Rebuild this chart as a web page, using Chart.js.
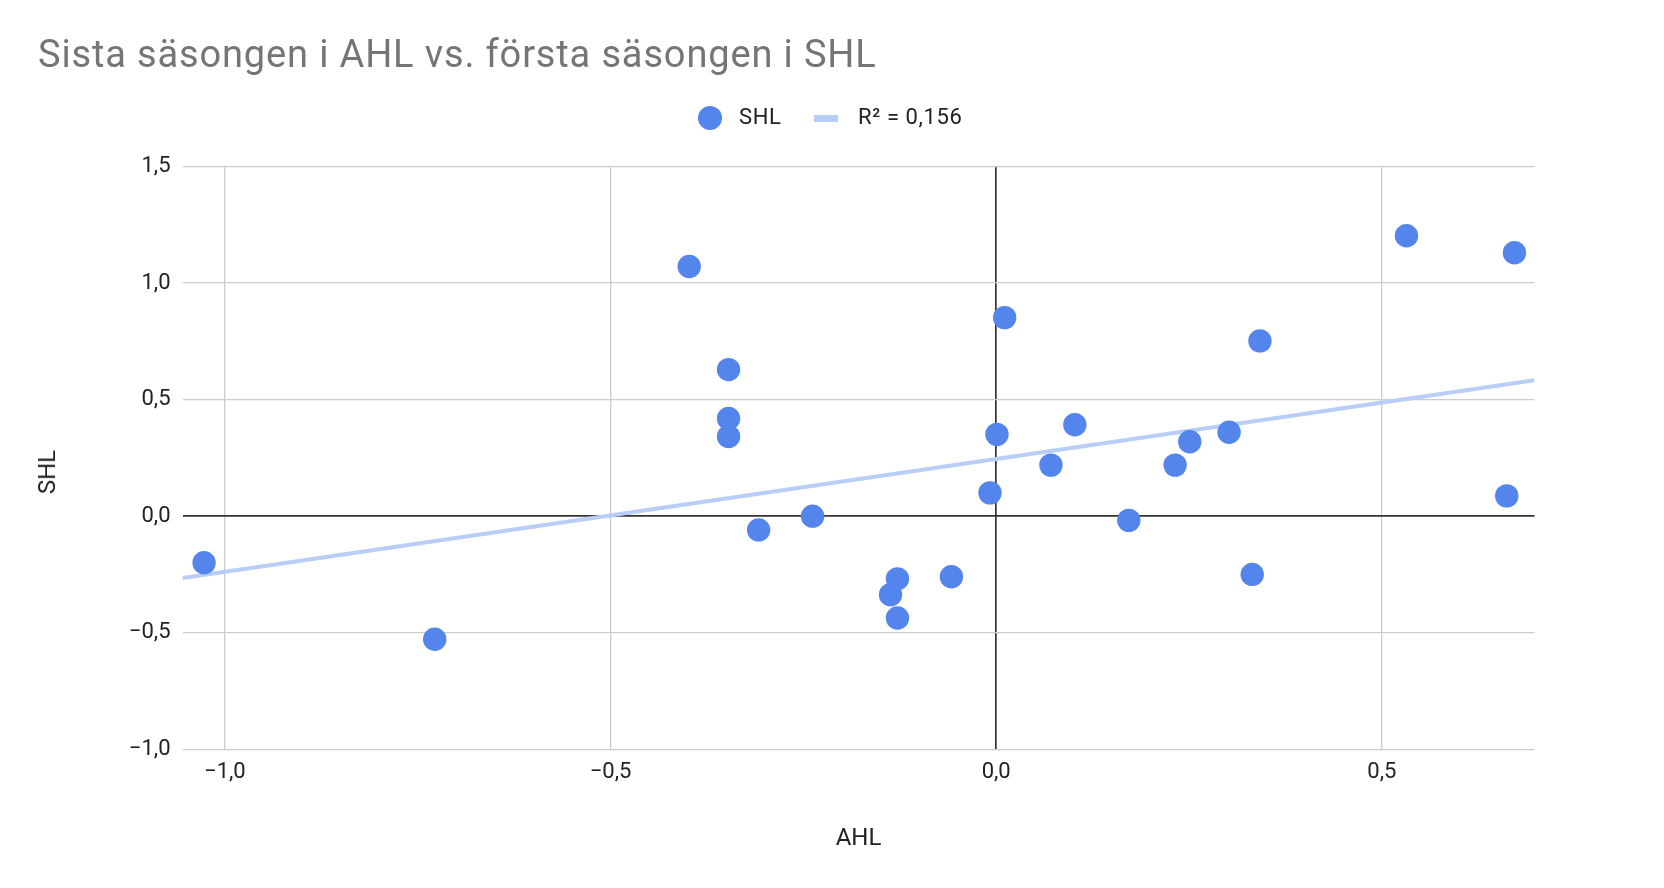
<!DOCTYPE html>
<html>
<head>
<meta charset="utf-8">
<script src="https://cdn.jsdelivr.net/npm/chart.js@4.4.1/dist/chart.umd.min.js"></script>
<style>
  html, body { margin: 0; padding: 0; background: #fff; }
  #wrap { position: relative; width: 1664px; height: 888px; font-family: Roboto, sans-serif; }
  #wrap canvas { position: absolute; left: 0; top: 0; }
  .title { position: absolute; left: 38px; top: 35px; font-size: 38px; line-height: 38px; letter-spacing: 0.85px; color: #757575; white-space: nowrap; }
  .leg { position: absolute; top: 105px; height: 24px; line-height: 24px; font-size: 22px; letter-spacing: 0.6px; color: #222; white-space: nowrap; }
  .dot { position: absolute; left: 698px; top: 106px; width: 24px; height: 24px; border-radius: 50%; background: #5385ec; }
  .bar { position: absolute; left: 814px; top: 115px; width: 24px; height: 7px; background: #b8cdf7; }
  .ytitle { position: absolute; left: 47px; top: 472px; font-size: 24px; line-height: 24px; color: #222; white-space: nowrap;
            transform: translate(-50%, -50%) rotate(-90deg); }
</style>
</head>
<body>
<div id="wrap">
  <canvas id="chart" width="1664" height="888"></canvas>
  <div class="title">Sista säsongen i AHL vs. första säsongen i SHL</div>
  <span class="dot"></span>
  <span class="leg" style="left:739px">SHL</span>
  <span class="bar"></span>
  <span class="leg" style="left:858px">R² = 0,156</span>
  <div class="ytitle">SHL</div>
</div>
<script>
// AHL (x) och SHL (y) per spelare
const ahlValues = [-1.027, -0.728, -0.398, -0.347, -0.347, -0.347, -0.308, -0.238, -0.137, -0.128, -0.128, -0.058, -0.008,
  0.001, 0.011, 0.071, 0.102, 0.172, 0.232, 0.251, 0.302, 0.332, 0.342, 0.532, 0.662, 0.672];
const shlValues = [-0.20, -0.528, 1.071, 0.629, 0.419, 0.342, -0.059, 0.0, -0.337, -0.269, -0.437, -0.26, 0.10,
  0.351, 0.852, 0.219, 0.392, -0.018, 0.219, 0.319, 0.36, -0.25, 0.752, 1.203, 0.087, 1.13];

// trendlinjens ändpunkter
const trendX = [-1.055, 0.698];
const trendY = [-0.265, 0.583];

const xTicks = [-1.0, -0.5, 0.0, 0.5];
const xTickLabels = ['−1,0', '−0,5', '0,0', '0,5'];
const yTicks = [-1.0, -0.5, 0.0, 0.5, 1.0, 1.5];
const yTickLabels = ['−1,0', '−0,5', '0,0', '0,5', '1,0', '1,5'];

const gridColor = c => (c.tick && c.tick.value === 0 ? '#333333' : '#cccccc');
const gridWidth = c => (c.tick && c.tick.value === 0 ? 1.7 : 1.3);

new Chart(document.getElementById('chart'), {
  type: 'scatter',
  data: {
    datasets: [{
      label: 'SHL',
      data: ahlValues.map((x, i) => ({ x: x, y: shlValues[i] })),
      backgroundColor: '#5385ec',
      borderWidth: 0,
      pointRadius: 11.7,
      pointHoverRadius: 11.7,
      order: 0
    }, {
      label: 'R² = 0,156',
      type: 'line',
      data: trendX.map((x, i) => ({ x: x, y: trendY[i] })),
      borderColor: '#b8cdf7',
      borderWidth: 4,
      pointRadius: 0,
      fill: false,
      order: 1
    }]
  },
  options: {
    responsive: false,
    animation: false,
    layout: { padding: { left: 34, right: 129.5, top: 166.6, bottom: 0 } },
    plugins: {
      legend: { display: false },
      title: { display: false },
      tooltip: { enabled: false }
    },
    scales: {
      x: {
        type: 'linear',
        min: -1.055,
        max: 0.698,
        afterBuildTicks: s => { s.ticks = xTicks.map(v => ({ value: v })); },
        afterFit: s => { s.height = 138.8; },
        border: { display: false },
        grid: { color: gridColor, lineWidth: gridWidth, drawTicks: false },
        ticks: {
          padding: 10,
          color: '#222',
          font: { family: 'Roboto', size: 22 },
          callback: v => xTickLabels[xTicks.indexOf(v)]
        },
        title: {
          display: true,
          text: 'AHL',
          color: '#222',
          font: { family: 'Roboto', size: 24 },
          padding: { top: 0, bottom: 34.6 }
        }
      },
      y: {
        min: -1.0,
        max: 1.5,
        afterBuildTicks: s => { s.ticks = yTicks.map(v => ({ value: v })); },
        afterFit: s => { s.width = 148.5; },
        border: { display: false },
        grid: { color: gridColor, lineWidth: gridWidth, drawTicks: false },
        ticks: {
          padding: 12,
          color: '#222',
          font: { family: 'Roboto', size: 22 },
          callback: v => yTickLabels[yTicks.indexOf(v)]
        },
        title: { display: false }
      }
    }
  }
});
</script>
</body>
</html>
